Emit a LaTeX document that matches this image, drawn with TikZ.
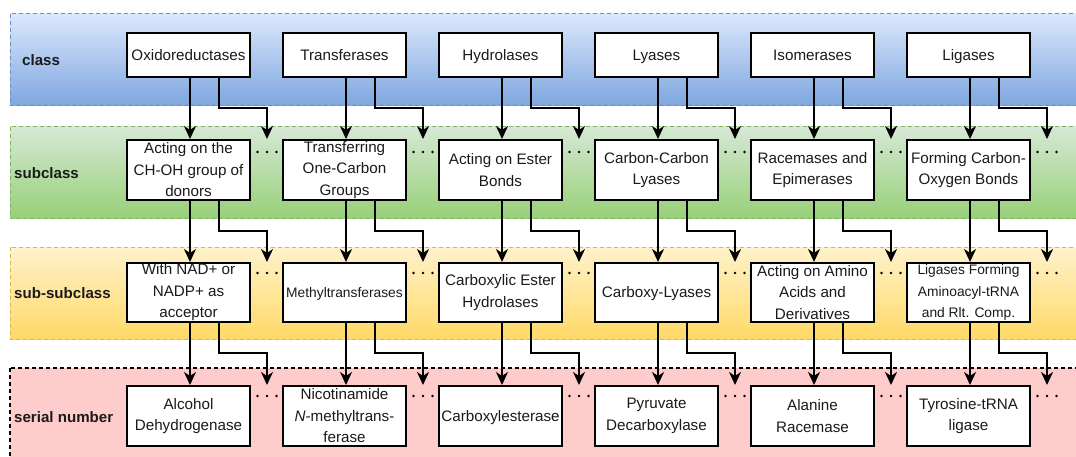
\documentclass[tikz,border=0pt]{standalone}
\usepackage{fontspec}
\setmainfont{Liberation Sans}
\usetikzlibrary{arrows.meta,calc}
\definecolor{blueT}{HTML}{DAE8FC}
\definecolor{blueB}{HTML}{7EA6E0}
\definecolor{blueL}{HTML}{6C8EBF}
\definecolor{greenT}{HTML}{D5E8D4}
\definecolor{greenB}{HTML}{97D077}
\definecolor{greenL}{HTML}{82B366}
\definecolor{yelT}{HTML}{FFF2CC}
\definecolor{yelB}{HTML}{FFD966}
\definecolor{yelL}{HTML}{D6B656}
\definecolor{pinkF}{HTML}{FFCCCC}
\definecolor{txt}{HTML}{1A1A1A}
\begin{document}
\begin{tikzpicture}[x=1pt,y=-1pt,
  band/.style={dash pattern=on 4pt off 3pt, line width=1pt},
  box/.style={draw=black, fill=white, line width=2pt, minimum width=123pt, inner sep=0pt, align=center, text=txt,
    font=\fontsize{15.2pt}{21.5pt}\selectfont},
  h1/.style={minimum height=44pt},
  h2/.style={minimum height=60pt},
  h3/.style={minimum height=59pt},
  oneline/.style={text height=10.9pt, text depth=0pt},
  onesmall/.style={text height=9.9pt, text depth=0pt},
  smalltxt/.style={font=\fontsize{13.8pt}{21.5pt}\selectfont},
  lbl/.style={anchor=west, inner sep=0pt, text=txt, font=\fontsize{15.1pt}{18pt}\selectfont\bfseries},
  arr/.style={line width=2pt, -{Stealth[length=13pt,width=12pt,inset=4pt]}},
]
\clip (0,0) rectangle (1076,457);
\fill[white] (0,0) rectangle (1076,457);

% bands
\shade[top color=blueT, bottom color=blueB] (10,14) rectangle (1090,106);
\draw[band, blueL] (10,14) rectangle (1090,106);
\shade[top color=greenT, bottom color=greenB] (10,127) rectangle (1090,219);
\draw[band, greenL] (10,127) rectangle (1090,219);
\shade[top color=yelT, bottom color=yelB] (10,247) rectangle (1090,339);
\draw[band, yelL] (10,247) rectangle (1090,339);
\fill[pinkF] (10,368) rectangle (1090,470);
\draw[band, black, line width=1.6pt] (10,368) rectangle (1090,470);

% band labels
\node[lbl] (Lclass) at (22,60) {class};
\node[lbl] (Lsub) at (14,173) {subclass};
\node[lbl] (Lsubsub) at (14,293) {sub-subclass};
\node[lbl] (Lserial) at (14,417) {serial number};

% class row
\node[box,h1,oneline] (c1) at (188.5,55) {Oxidoreductases};
\node[box,h1,oneline] (c2) at (344.5,55) {Transferases};
\node[box,h1,oneline] (c3) at (500.5,55) {Hydrolases};
\node[box,h1,oneline] (c4) at (656.5,55) {Lyases};
\node[box,h1,oneline] (c5) at (812.5,55) {Isomerases};
\node[box,h1,oneline] (c6) at (968.5,55) {Ligases};

% subclass row
\node[box,h2] (s1) at (188.5,170) {Acting on the\\CH-OH group of\\donors};
\node[box,h2] (s2) at (344.5,170) {Transferring\\One-Carbon\\Groups};
\node[box,h2] (s3) at (500.5,170) {Acting on Ester\\Bonds};
\node[box,h2] (s4) at (656.5,170) {Carbon-Carbon\\Lyases};
\node[box,h2] (s5) at (812.5,170) {Racemases and\\Epimerases};
\node[box,h2] (s6) at (968.5,170) {Forming Carbon-\\Oxygen Bonds};

% sub-subclass row
\node[box,h3] (u1) at (188.5,292.5) {With NAD+ or\\NADP+ as\\acceptor};
\node[box,h3,smalltxt,onesmall] (u2) at (344.5,292.5) {Methyltransferases};
\node[box,h3] (u3) at (500.5,292.5) {Carboxylic Ester\\Hydrolases};
\node[box,h3,oneline] (u4) at (656.5,292.5) {Carboxy-Lyases};
\node[box,h3] (u5) at (812.5,292.5) {Acting on Amino\\Acids and\\Derivatives};
\node[box,h3,smalltxt] (u6) at (968.5,292.5) {Ligases Forming\\Aminoacyl-tRNA\\and Rlt. Comp.};

% serial number row
\node[box,h2] (n1) at (188.5,416) {Alcohol\\Dehydrogenase};
\node[box,h2] (n2) at (344.5,416) {Nicotinamide\\\textit{N}-methyltrans-\\ferase};
\node[box,h2,oneline] (n3) at (500.5,416) {Carboxylesterase};
\node[box,h2] (n4) at (656.5,416) {Pyruvate\\Decarboxylase};
\node[box,h2] (n5) at (812.5,416) {Alanine\\Racemase};
\node[box,h2] (n6) at (968.5,416) {Tyrosine-tRNA\\ligase};

% connectors
\foreach \a/\b in {c/s, s/u, u/n}{
  \foreach \i in {1,...,6}{
    \draw[arr] ([xshift=1.5pt]\a\i.south) -- ([xshift=1.5pt]\b\i.north);
    \draw[arr] ([xshift=30.5pt]\a\i.south) -- ++(0,30) -| ([xshift=78.5pt]\b\i.north);
  }
}

% ellipsis dots
\foreach \r/\dy in {s/13, u/11, n/11}{
  \foreach \i in {1,...,6}{
    \foreach \dx in {69,78.5,88}{
      \fill[black] ([xshift=\dx pt, yshift=-\dy pt]\r\i.north) circle (1.3pt);
    }
  }
}
\end{tikzpicture}
\end{document}
